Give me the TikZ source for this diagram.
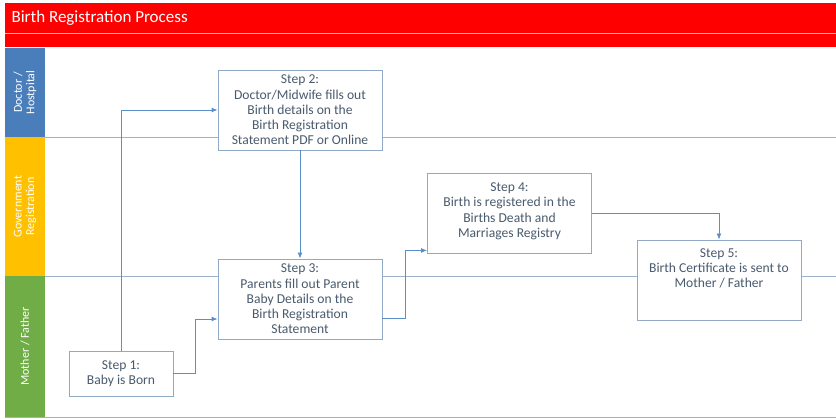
\documentclass[tikz,border=0pt]{standalone}
\usepackage{fontspec}
\setmainfont{Carlito}
\usetikzlibrary{arrows.meta,calc,positioning}
\definecolor{BannerRed}{HTML}{FF0000}
\definecolor{LaneBlue}{HTML}{4A7EBB}
\definecolor{LaneGold}{HTML}{FFC000}
\definecolor{LaneGreen}{HTML}{70AD47}
\definecolor{LaneRule}{HTML}{9DB3C9}
\definecolor{BoxRule}{HTML}{8FA9C6}
\definecolor{FlowBlue}{HTML}{5B8FC7}
\definecolor{StepInk}{HTML}{4A5B6E}
\tikzset{
  stepbox/.style={
    draw=BoxRule,
    line width=0.9pt,
    fill=white,
    minimum width=164pt,
    minimum height=80pt,
    inner xsep=2pt,
    align=center,
    text=StepInk,
    font=\fontsize{13.6}{15.3}\selectfont
  },
  lanelabel/.style={
    rotate=90,
    text=white,
    align=center,
    font=\fontsize{12}{12.5}\selectfont
  },
  flow/.style={
    draw=FlowBlue,
    line width=0.9pt,
    -{Latex[length=6pt,width=5pt]}
  }
}
\begin{document}
\begin{tikzpicture}[x=1pt,y=-1pt]
  \useasboundingbox (0,0) rectangle (836,419);
  % banner
  \fill[BannerRed] (5,3) rectangle (836,47);
  \draw[white!70!BannerRed, line width=0.8pt] (5,33) -- (836,33);
  \node[anchor=west, text=white, font=\fontsize{17}{18}\selectfont] (title) at (8,18) {Birth Registration Process};
  % lanes
  \fill[LaneBlue] (5,48) rectangle (45,137);
  \fill[LaneGold] (5,137) rectangle (45,276);
  \fill[LaneGreen] (5,276) rectangle (45,417);
  \draw[LaneRule, line width=0.9pt] (45,137) -- (836,137);
  \draw[LaneRule, line width=0.9pt] (45,276) -- (836,276);
  \draw[LaneRule, line width=0.9pt] (5,417) -- (836,417);
  \node[lanelabel] (doctor) at (25,92.5) {Doctor /\\Hostpital};
  \node[lanelabel] (govt) at (25,206.5) {Government\\Registration};
  \node[lanelabel] (parents) at (25,346.5) {Mother / Father};
  % steps
  \node[stepbox] (step2) at (300,110) {Step 2:\\Doctor/Midwife fills out\\Birth details on the\\Birth Registration\\Statement PDF or Online};
  \node[stepbox] (step3) at (300,299) {Step 3:\\Parents fill out Parent\\Baby Details on the\\Birth Registration\\Statement};
  \node[stepbox, minimum width=104pt, minimum height=45pt] (step1) at (121,373.5) {Step 1:\\Baby is Born};
  \node[stepbox, minimum height=80pt, text depth=6pt] (step4) at (509.5,213) {Step 4:\\Birth is registered in the\\Births Death and\\Marriages Registry};
  \node[stepbox, minimum height=80pt, text depth=24pt] (step5) at (719,280) {Step 5:\\Birth Certificate is sent to\\Mother / Father};
  % connectors
  \draw[flow] (step1.north) |- (step2.west);
  \draw[flow] (step1.east) -- ++(22,0) |- ([yshift=-20pt]step3.west);
  \draw[flow] (step2.south) -- (step3.north);
  \draw[flow] ([yshift=-19pt]step3.east) -- ++(23,0) |- ([yshift=3pt]step4.south west);
  \draw[flow] (step4.east) -| (step5.north);
\end{tikzpicture}
\end{document}
